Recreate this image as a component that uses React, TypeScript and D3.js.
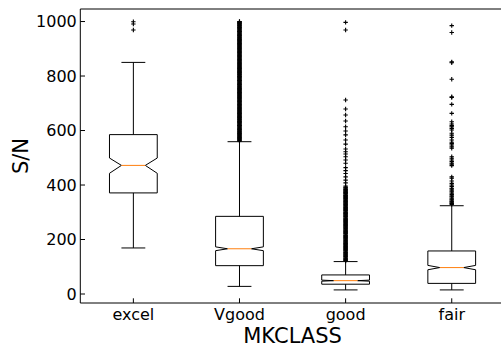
import React from "react";
import * as d3 from "d3";

const categories = ["excel", "Vgood", "good", "fair"];
const q1 = [371, 104, 36, 39];
const median = [472, 166, 49, 97];
const q3 = [585, 285, 70, 158];
const whiskerLo = [169, 28, 15, 15];
const whiskerHi = [850, 559, 119, 324];
const notchLo = [443, 159, 47, 89];
const notchHi = [499, 173, 51, 105];

const fliersExcel = [999, 991, 969];
const fliersVgood = [
  561, 563, 565, 567, 569, 571, 573, 574, 576, 578, 580, 582, 584, 586, 588, 589,
  591, 593, 595, 597, 599, 601, 603, 604, 606, 608, 610, 612, 614, 616, 618, 619,
  621, 623, 625, 627, 629, 631, 633, 634, 636, 638, 640, 642, 644, 646, 648, 649,
  651, 653, 655, 657, 659, 661, 663, 664, 666, 668, 670, 672, 674, 676, 678, 679,
  681, 683, 685, 687, 689, 691, 693, 694, 696, 698, 700, 702, 704, 706, 708, 709,
  711, 713, 715, 717, 719, 721, 723, 724, 726, 728, 730, 732, 734, 736, 738, 739,
  741, 743, 745, 747, 749, 751, 753, 754, 756, 758, 760, 762, 764, 766, 768, 769,
  771, 773, 775, 777, 779, 781, 783, 784, 786, 788, 790, 792, 794, 796, 798, 799,
  801, 803, 805, 807, 809, 811, 813, 814, 816, 818, 820, 822, 824, 826, 828, 829,
  831, 833, 835, 837, 839, 841, 843, 844, 846, 848, 850, 852, 854, 856, 858, 859,
  861, 863, 865, 867, 869, 871, 873, 874, 876, 878, 880, 882, 884, 886, 888, 889,
  891, 893, 895, 897, 899, 901, 903, 904, 906, 908, 910, 912, 914, 916, 918, 919,
  921, 923, 925, 927, 929, 931, 933, 934, 936, 938, 940, 942, 944, 946, 948, 949,
  951, 953, 955, 957, 959, 961, 963, 964, 966, 968, 970, 972, 974, 976, 978, 979,
  981, 983, 985, 987, 989, 991, 993, 994, 996, 998, 999, 1000,
];
const fliersGood = [
  997, 969, 712, 679, 657, 635, 614, 598, 584, 565, 550, 532, 522, 514, 504, 492,
  480, 464, 453, 442, 430, 418, 408, 396, 392, 390, 388, 385, 383, 381, 379, 377,
  375, 373, 371, 369, 367, 364, 362, 360, 358, 356, 354, 352, 350, 348, 346, 343,
  341, 339, 337, 335, 333, 331, 329, 327, 325, 322, 320, 318, 316, 314, 312, 310,
  308, 306, 304, 301, 299, 297, 295, 293, 291, 289, 287, 285, 283, 280, 278, 276,
  274, 272, 270, 268, 266, 264, 262, 259, 257, 255, 253, 251, 249, 247, 245, 243,
  241, 238, 236, 234, 232, 230, 228, 226, 224, 222, 220, 217, 215, 213, 211, 209,
  207, 205, 203, 201, 199, 196, 194, 192, 190, 188, 186, 184, 182, 180, 178, 175,
  173, 171, 169, 167, 165, 163, 161, 159, 157, 154, 152, 150, 148, 146, 144, 142,
  140, 138, 136, 133, 131, 129, 127, 125, 123, 121,
];
const fliersFair = [
  985, 960, 852, 849, 788, 724, 721, 696, 663, 632, 624, 618, 614, 608, 602, 590,
  583, 575, 565, 557, 552, 547, 540, 535, 504, 498, 492, 486, 480, 476, 471, 430,
  425, 415, 406, 400, 395, 388, 385, 379, 375, 370, 365, 360, 357, 352, 348, 345,
  341, 338, 335, 332, 329,
];
const fliers = [fliersExcel, fliersVgood, fliersGood, fliersFair];
const yTicks = [0, 200, 400, 600, 800, 1000];

const W = 501;
const H = 349;
const left = 80.3;
const right = 504.8;
const top = 9;
const bottom = 303;
const FONT = "DejaVu Sans, sans-serif";
const boxW = 0.45;
const tickLen = 4.7;

export default function App() {
  const x = d3.scaleLinear().domain([0.5, 4.5]).range([left, right]);
  const y = d3.scaleLinear().domain([-33, 1046]).range([bottom, top]);
  const pxW = x(1 + boxW) - x(1);

  return (
    <svg
      width={W}
      height={H}
      style={{ position: "absolute", left: 0, top: 0, background: "#fff" }}
      fontFamily={FONT}
    >
      <rect x={0} y={0} width={W} height={H} fill="#fff" />
      {categories.map((c, i) => {
        const cx = x(i + 1);
        const bl = cx - pxW / 2;
        const br = cx + pxW / 2;
        const cl = cx - pxW / 4;
        const cr = cx + pxW / 4;
        const pts: [number, number][] = [
          [bl, y(q1[i])],
          [br, y(q1[i])],
          [br, y(notchLo[i])],
          [cr, y(median[i])],
          [br, y(notchHi[i])],
          [br, y(q3[i])],
          [bl, y(q3[i])],
          [bl, y(notchHi[i])],
          [cl, y(median[i])],
          [bl, y(notchLo[i])],
          [bl, y(q1[i])],
        ];
        const path = d3.line()(pts) + "Z";
        return (
          <g key={c}>
            <line x1={cx} x2={cx} y1={y(q1[i])} y2={y(whiskerLo[i])} stroke="#000" strokeWidth={1} />
            <line x1={cx} x2={cx} y1={y(q3[i])} y2={y(whiskerHi[i])} stroke="#000" strokeWidth={1} />
            <line x1={cl} x2={cr} y1={y(whiskerLo[i])} y2={y(whiskerLo[i])} stroke="#000" strokeWidth={1} />
            <line x1={cl} x2={cr} y1={y(whiskerHi[i])} y2={y(whiskerHi[i])} stroke="#000" strokeWidth={1} />
            <path d={path} fill="none" stroke="#000" strokeWidth={1} strokeLinejoin="miter" />
            <line x1={cl} x2={cr} y1={y(median[i])} y2={y(median[i])} stroke="#ff7f0e" strokeWidth={1} />
            {fliers[i].map((v, k) => (
              <path
                key={k}
                d={`M${cx - 2.2},${y(v)}H${cx + 2.2}M${cx},${y(v) - 2.2}V${y(v) + 2.2}`}
                stroke="#000"
                strokeWidth={1.1}
                fill="none"
              />
            ))}
          </g>
        );
      })}
      {/* spines */}
      <line x1={left} x2={left} y1={top} y2={bottom} stroke="#000" strokeWidth={1} />
      <line x1={left} x2={right} y1={bottom} y2={bottom} stroke="#000" strokeWidth={1} />
      <line x1={left} x2={right} y1={top} y2={top} stroke="#000" strokeWidth={1} />
      <line x1={right} x2={right} y1={top} y2={bottom} stroke="#000" strokeWidth={1} />
      {/* y ticks */}
      {yTicks.map((t) => (
        <g key={t}>
          <line x1={left} x2={left + tickLen} y1={y(t)} y2={y(t)} stroke="#000" strokeWidth={1} />
          <text x={left - 3.5} y={y(t)} dy="0.36em" textAnchor="end" fontSize={16} fill="#000">
            {t}
          </text>
        </g>
      ))}
      {/* x ticks */}
      {categories.map((c, i) => (
        <g key={c}>
          <line x1={x(i + 1)} x2={x(i + 1)} y1={bottom} y2={bottom - tickLen} stroke="#000" strokeWidth={1} />
          <text x={x(i + 1)} y={320} textAnchor="middle" fontSize={16} fill="#000">
            {c}
          </text>
        </g>
      ))}
      <text x={(left + right) / 2} y={343.3} textAnchor="middle" fontSize={21} fill="#000">
        MKCLASS
      </text>
      <text
        transform={`translate(28,${(top + bottom) / 2}) rotate(-90)`}
        textAnchor="middle"
        fontSize={21}
        fill="#000"
      >
        S/N
      </text>
    </svg>
  );
}
